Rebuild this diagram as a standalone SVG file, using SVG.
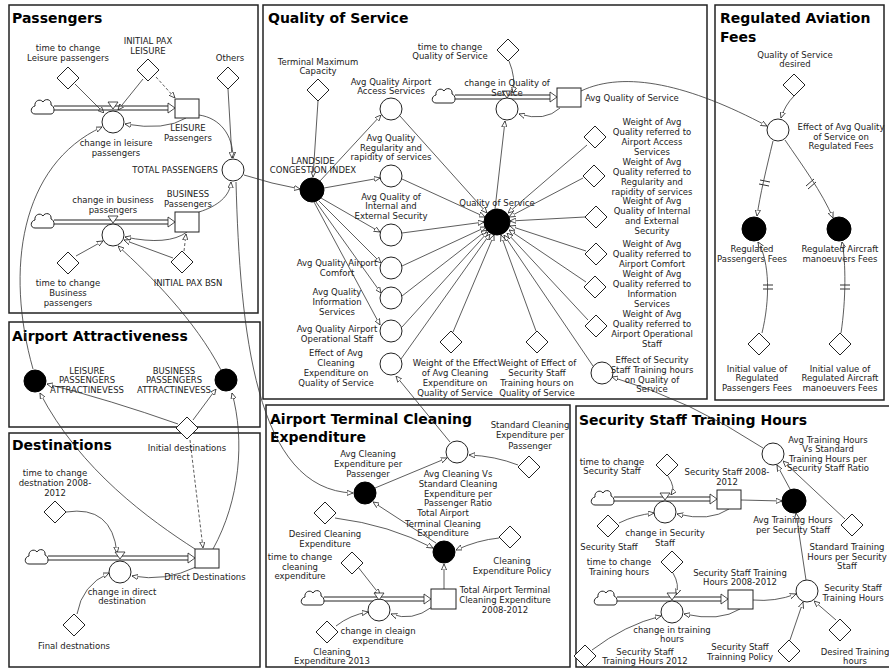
<svg xmlns="http://www.w3.org/2000/svg" width="889" height="668" viewBox="0 0 889 668">
<defs>
<style>
.panel{fill:none;stroke:#222;stroke-width:1.5}
.h{font-family:"DejaVu Sans",sans-serif;font-weight:bold;font-size:14px;fill:#000}
.t{font-family:"DejaVu Sans",sans-serif;font-size:8.5px;text-anchor:middle;fill:#222}
.tl{text-anchor:start}
.te{text-anchor:end}
.aux{fill:#fff;stroke:#222;stroke-width:1}
.blk{fill:#000;stroke:#000}
.stk{fill:#fff;stroke:#222;stroke-width:1}
.c{fill:none;stroke:#333;stroke-width:0.8;marker-end:url(#ah)}
.d{stroke-dasharray:3,2}
.pipe{fill:none;stroke:#222;stroke-width:1}
.pa{fill:#fff;stroke:#222;stroke-width:0.8}
.dl{fill:none;stroke:#333;stroke-width:1}
</style>
<marker id="ah" viewBox="0 0 8 8" refX="8" refY="4" markerWidth="6" markerHeight="6" markerUnits="userSpaceOnUse" orient="auto"><path d="M0,0.5 L8,4 L0,7.5 Z" fill="#fff" stroke="#222" stroke-width="1"/></marker>
<path id="dia" class="aux" d="M0,-11 L11,0 L0,11 L-11,0 Z"/>
<path id="cloud" class="aux" d="M-8,7 C-13,7 -13,0 -8,-1 C-9,-6 -3,-9 0,-5 C2,-9 9,-8 8,-2 C12,-1 12,7 8,7 Z"/>
</defs>
<rect width="889" height="668" fill="#fff"/>

<g id="panels">
<rect class="panel" x="9" y="5" width="249" height="308"/>
<text class="h" x="12" y="23">Passengers</text>
<rect class="panel" x="263" y="5" width="444" height="394"/>
<text class="h" x="268" y="23">Quality of Service</text>
<rect class="panel" x="715" y="5" width="169" height="395"/>
<text class="h" x="720" y="23">Regulated Aviation</text>
<text class="h" x="720" y="42">Fees</text>
<rect class="panel" x="9" y="322" width="251" height="105"/>
<text class="h" x="12" y="341">Airport Attractiveness</text>
<rect class="panel" x="9" y="433" width="251" height="234"/>
<text class="h" x="12" y="450">Destinations</text>
<rect class="panel" x="266" y="405" width="304" height="262"/>
<text class="h" x="270" y="424">Airport Terminal Cleaning</text>
<text class="h" x="270" y="442">Expenditure</text>
<rect class="panel" x="576" y="406" width="320" height="261"/>
<text class="h" x="579" y="425">Security Staff Training Hours</text>
</g>

<g id="connectors">
<path class="c" d="M75,84 L104,113"/>
<path class="c" d="M143,79 L118,110"/>
<path class="c d" d="M156,77 L175,98"/>
<path class="c" d="M186,118 Q165,131 125,124"/>
<path class="c" d="M199,115 C220,118 233,135 233,158"/>
<path class="c" d="M228,89 L232,158"/>
<path class="c" d="M199,212 C218,206 230,196 231,182"/>
<path class="c" d="M187,232 Q168,246 125,237"/>
<path class="c d" d="M184,251 L186,234"/>
<path class="c" d="M173,258 L124,240"/>
<path class="c" d="M76,256 L103,241"/>
<path class="c" d="M33,369 C5,270 20,165 102,127"/>
<path class="c" d="M221,370 C195,320 150,275 118,246"/>
<path class="c" d="M244,175 Q272,184 300,189"/>
<path class="c" d="M318,101 L313,177"/>
<path class="c" d="M320,181 L381,115"/>
<path class="c" d="M324,188 L380,178"/>
<path class="c" d="M321,198 L380,232"/>
<path class="c" d="M319,201 L381,263"/>
<path class="c" d="M316,202 L381,293"/>
<path class="c" d="M314,202 L380,325"/>
<path class="c" d="M400,116 L487,213"/>
<path class="c" d="M402,179 L485,217"/>
<path class="c" d="M402,233 L484,222"/>
<path class="c" d="M402,266 L486,227"/>
<path class="c" d="M402,296 L487,230"/>
<path class="c" d="M402,327 L488,232"/>
<path class="c" d="M401,359 L490,234"/>
<path class="c" d="M495,209 L505,121"/>
<path class="c" d="M509,61 Q516,78 513,93"/>
<path class="c" d="M560,108 Q545,122 519,114"/>
<path class="c" d="M587,145 L508,213"/>
<path class="c" d="M583,178 L509,217"/>
<path class="c" d="M585,217 L510,221"/>
<path class="c" d="M586,251 L510,226"/>
<path class="c" d="M586,282 L509,230"/>
<path class="c" d="M588,320 L507,233"/>
<path class="c" d="M593,366 L504,235"/>
<path class="c" d="M536,331 L501,235"/>
<path class="c" d="M453,332 L494,235"/>
<path class="c" d="M581,91 C625,70 690,85 767,126"/>
<path class="c" d="M794,96 Q785,105 781,118"/>
<path class="c" d="M773,141 C766,170 760,195 757,216"/>
<path class="c" d="M785,140 C802,165 822,192 833,218"/>
<path class="c" d="M762,333 C770,300 770,262 758,242"/>
<path class="c" d="M841,333 C846,300 846,262 842,242"/>
<path class="dl" d="M760,180 L770,182 M759,184 L769,186 M806,186 L814,179 M808,189 L816,182 M763,285 L773,285 M763,289 L773,289 M840,285 L850,285 M840,289 L850,289"/>
<path class="c" d="M178,424 Q110,400 47,384"/>
<path class="c" d="M193,420 L216,389"/>
<path class="c d" d="M190,440 L203,548"/>
<path class="c" d="M195,549 C150,520 80,470 40,393"/>
<path class="c" d="M213,549 C240,500 245,440 232,393"/>
<path class="c" d="M66,512 Q112,505 117,553"/>
<path class="c" d="M77,614 Q82,585 109,573"/>
<path class="c" d="M196,567 Q165,582 132,576"/>
<path class="c" d="M236,182 C240,330 255,490 353,493"/>
<path class="c" d="M518,465 Q495,456 469,455"/>
<path class="c" d="M375,488 L447,458"/>
<path class="c" d="M450,442 L396,376"/>
<path class="c" d="M436,543 L373,502"/>
<path class="c" d="M335,518 Q390,525 433,548"/>
<path class="c" d="M499,538 Q478,540 456,550"/>
<path class="c" d="M444,589 L444,564"/>
<path class="c" d="M358,567 L380,595"/>
<path class="c" d="M432,607 Q412,622 391,614"/>
<path class="c" d="M336,626 Q350,615 368,612"/>
<path class="c" d="M668,476 Q676,488 671,495"/>
<path class="c" d="M619,523 Q635,515 654,513"/>
<path class="c" d="M729,509 Q710,522 677,514"/>
<path class="c" d="M741,500 L782,501"/>
<path class="c" d="M806,580 L796,513"/>
<path class="c" d="M790,489 L777,465"/>
<path class="c" d="M845,519 L783,461"/>
<path class="c" d="M763,448 Q690,400 612,377"/>
<path class="c" d="M673,573 Q680,585 676,595"/>
<path class="c" d="M740,609 Q720,622 684,614"/>
<path class="c" d="M753,600 Q775,602 796,594"/>
<path class="c" d="M592,650 Q625,625 661,616"/>
<path class="c" d="M790,640 L803,602"/>
<path class="c" d="M836,620 L814,601"/>
</g>

<g id="flows">
<path class="pipe" d="M54,106 H169 M54,110 H169"/><polygon class="pa" points="168,103 175,108 168,113"/>
<path class="pipe" d="M54,220 H169 M54,224 H169"/><polygon class="pa" points="168,217 175,222 168,227"/>
<path class="pipe" d="M455,95 H551 M455,99 H551"/><polygon class="pa" points="550,92 557,97 550,102"/>
<path class="pipe" d="M48,556 H189 M48,560 H189"/><polygon class="pa" points="188,553 195,558 188,563"/>
<path class="pipe" d="M324,597 H425 M324,601 H425"/><polygon class="pa" points="424,594 431,599 424,604"/>
<path class="pipe" d="M614,497 H711 M614,501 H711"/><polygon class="pa" points="710,494 717,499 710,504"/>
<path class="pipe" d="M617,597 H722 M617,601 H722"/><polygon class="pa" points="721,594 728,599 721,604"/>
</g>

<g id="cloud-leisure"><use href="#cloud" x="43" y="107"/></g>
<g id="cloud-business"><use href="#cloud" x="43" y="221"/></g>
<g id="cloud-qos"><use href="#cloud" x="444" y="96"/></g>
<g id="cloud-dest"><use href="#cloud" x="37" y="557"/></g>
<g id="cloud-clean"><use href="#cloud" x="313" y="598"/></g>
<g id="cloud-staff"><use href="#cloud" x="603" y="498"/></g>
<g id="cloud-training"><use href="#cloud" x="606" y="598"/></g>

<!-- Passengers -->
<g id="time-to-change-leisure"><use href="#dia" x="68" y="78"/><text class="t" x="68" y="51">time to change</text><text class="t" x="68" y="61">Leisure passengers</text></g>
<g id="initial-pax-leisure"><use href="#dia" x="148" y="70"/><text class="t" x="148" y="44">INITIAL PAX</text><text class="t" x="148" y="54">LEISURE</text></g>
<g id="others"><use href="#dia" x="228" y="78"/><text class="t" x="230" y="61">Others</text></g>
<g id="change-leisure"><circle class="aux" cx="113" cy="122" r="11"/><polygon class="pa" points="108,102 118,102 113,109"/><text class="t" x="116" y="146">change in leisure</text><text class="t" x="116" y="156">passengers</text></g>
<g id="leisure-passengers"><rect class="stk" x="175" y="99" width="24" height="19"/><text class="t" x="188" y="131">LEISURE</text><text class="t" x="188" y="141">Passengers</text></g>
<g id="total-passengers"><circle class="aux" cx="233" cy="170" r="11"/><text class="t te" x="218" y="173">TOTAL PASSENGERS</text></g>
<g id="change-business"><circle class="aux" cx="113" cy="235" r="11"/><polygon class="pa" points="108,216 118,216 113,223"/><text class="t" x="113" y="203">change in business</text><text class="t" x="113" y="213">passengers</text></g>
<g id="business-passengers"><rect class="stk" x="175" y="212" width="24" height="20"/><text class="t" x="188" y="197">BUSINESS</text><text class="t" x="188" y="207">Passengers</text></g>
<g id="time-to-change-business"><use href="#dia" x="68" y="263"/><text class="t" x="68" y="286">time to change</text><text class="t" x="68" y="296">Business</text><text class="t" x="68" y="306">passengers</text></g>
<g id="initial-pax-bsn"><use href="#dia" x="182" y="262"/><text class="t" x="188" y="286">INITIAL PAX BSN</text></g>

<!-- Quality of Service -->
<g id="terminal-max-capacity"><use href="#dia" x="318" y="90"/><text class="t" x="318" y="65">Terminal Maximum</text><text class="t" x="318" y="74">Capacity</text></g>
<g id="landside-congestion"><circle class="blk" cx="312" cy="190" r="12"/><text class="t" x="313" y="164">LANDSIDE</text><text class="t" x="313" y="173">CONGESTION INDEX</text></g>
<g id="avg-access"><circle class="aux" cx="391" cy="109" r="11"/><text class="t" x="391" y="85">Avg Quality Airport</text><text class="t" x="391" y="94">Access Services</text></g>
<g id="avg-regularity"><circle class="aux" cx="391" cy="176" r="11"/><text class="t" x="391" y="141">Avg Quality</text><text class="t" x="391" y="151">Regularity and</text><text class="t" x="391" y="160">rapidity of services</text></g>
<g id="avg-security"><circle class="aux" cx="391" cy="235" r="11"/><text class="t" x="391" y="200">Avg Quality of</text><text class="t" x="391" y="209">Internal and</text><text class="t" x="391" y="219">External Security</text></g>
<g id="avg-comfort"><circle class="aux" cx="391" cy="268" r="11"/><text class="t" x="337" y="266">Avg Quality Airport</text><text class="t" x="337" y="276">Comfort</text></g>
<g id="avg-information"><circle class="aux" cx="391" cy="298" r="11"/><text class="t" x="337" y="295">Avg Quality</text><text class="t" x="337" y="305">Information</text><text class="t" x="337" y="315">Services</text></g>
<g id="avg-operational"><circle class="aux" cx="391" cy="331" r="11"/><text class="t" x="337" y="332">Avg Quality Airport</text><text class="t" x="337" y="342">Operational Staff</text></g>
<g id="effect-cleaning"><circle class="aux" cx="391" cy="364" r="11"/><text class="t" x="336" y="356">Effect of Avg</text><text class="t" x="336" y="366">Cleaning</text><text class="t" x="336" y="376">Expenditure on</text><text class="t" x="336" y="386">Quality of Service</text></g>
<g id="weight-effect-cleaning"><use href="#dia" x="451" y="342"/><text class="t" x="455" y="366">Weight of the Effect</text><text class="t" x="455" y="376">of Avg Cleaning</text><text class="t" x="455" y="386">Expenditure on</text><text class="t" x="455" y="396">Quality of Service</text></g>
<g id="weight-effect-security"><use href="#dia" x="537" y="342"/><text class="t" x="537" y="366">Weight of Effect of</text><text class="t" x="537" y="376">Security Staff</text><text class="t" x="537" y="386">Training hours on</text><text class="t" x="537" y="396">Quality of Service</text></g>
<g id="quality-of-service"><circle class="blk" cx="497" cy="222" r="13"/><text class="t" x="497" y="206">Quality of Service</text></g>
<g id="time-to-change-qos"><use href="#dia" x="508" y="50"/><text class="t" x="450" y="50">time to change</text><text class="t" x="450" y="59">Quality of Service</text></g>
<g id="change-qos"><circle class="aux" cx="507" cy="109" r="11"/><polygon class="pa" points="502,91 512,91 507,98"/><text class="t" x="507" y="86">change in Quality of</text><text class="t" x="507" y="96">Service</text></g>
<g id="avg-qos"><rect class="stk" x="557" y="88" width="24" height="19"/><text class="t tl" x="585" y="101">Avg Quality of Service</text></g>
<g id="weight-access"><use href="#dia" x="595" y="137"/><text class="t" x="652" y="125">Weight of Avg</text><text class="t" x="652" y="135">Quality referred to</text><text class="t" x="652" y="145">Airport Access</text><text class="t" x="652" y="155">Services</text></g>
<g id="weight-regularity"><use href="#dia" x="594" y="176"/><text class="t" x="652" y="165">Weight of Avg</text><text class="t" x="652" y="175">Quality referred to</text><text class="t" x="652" y="185">Regularity and</text><text class="t" x="652" y="195">rapidity of services</text></g>
<g id="weight-internal"><use href="#dia" x="596" y="217"/><text class="t" x="652" y="204">Weight of Avg</text><text class="t" x="652" y="214">Quality of Internal</text><text class="t" x="652" y="224">and External</text><text class="t" x="652" y="234">Security</text></g>
<g id="weight-comfort"><use href="#dia" x="596" y="254"/><text class="t" x="652" y="247">Weight of Avg</text><text class="t" x="652" y="257">Quality referred to</text><text class="t" x="652" y="267">Airport Comfort</text></g>
<g id="weight-information"><use href="#dia" x="595" y="287"/><text class="t" x="652" y="277">Weight of Avg</text><text class="t" x="652" y="287">Quality referred to</text><text class="t" x="652" y="297">Information</text><text class="t" x="652" y="307">Services</text></g>
<g id="weight-operational"><use href="#dia" x="596" y="326"/><text class="t" x="652" y="317">Weight of Avg</text><text class="t" x="652" y="327">Quality referred to</text><text class="t" x="652" y="337">Airport Operational</text><text class="t" x="652" y="347">Staff</text></g>
<g id="effect-security"><circle class="aux" cx="602" cy="373" r="11"/><text class="t" x="652" y="363">Effect of Security</text><text class="t" x="652" y="373">Staff Training hours</text><text class="t" x="652" y="383">on Quality of</text><text class="t" x="652" y="392">Service</text></g>

<!-- Regulated Aviation Fees -->
<g id="qos-desired"><use href="#dia" x="794" y="85"/><text class="t" x="795" y="58">Quality of Service</text><text class="t" x="795" y="67">desired</text></g>
<g id="effect-fees"><circle class="aux" cx="778" cy="130" r="11"/><text class="t" x="841" y="130">Effect of Avg Quality</text><text class="t" x="841" y="140">of Service on</text><text class="t" x="841" y="149">Regulated Fees</text></g>
<g id="reg-pass-fees"><circle class="blk" cx="754" cy="229" r="12"/><text class="t" x="752" y="252">Regulated</text><text class="t" x="752" y="262">Passengers Fees</text></g>
<g id="reg-aircraft-fees"><circle class="blk" cx="839" cy="229" r="12"/><text class="t" x="840" y="252">Regulated Aircraft</text><text class="t" x="840" y="262">manoeuvers Fees</text></g>
<g id="init-pass-fees"><use href="#dia" x="759" y="344"/><text class="t" x="757" y="372">Initial value of</text><text class="t" x="757" y="381">Regulated</text><text class="t" x="757" y="391">Passengers Fees</text></g>
<g id="init-aircraft-fees"><use href="#dia" x="840" y="344"/><text class="t" x="840" y="372">Initial value of</text><text class="t" x="840" y="381">Regulated Aircraft</text><text class="t" x="840" y="391">manoeuvers Fees</text></g>

<!-- Airport Attractiveness -->
<g id="leisure-attractiveness"><circle class="blk" cx="35" cy="381" r="11"/><text class="t" x="87" y="374">LEISURE</text><text class="t" x="87" y="383">PASSENGERS</text><text class="t" x="87" y="393">ATTRACTINEVESS</text></g>
<g id="business-attractiveness"><circle class="blk" cx="226" cy="380" r="11"/><text class="t" x="174" y="374">BUSINESS</text><text class="t" x="174" y="383">PASSENGERS</text><text class="t" x="174" y="393">ATTRACTINEVESS</text></g>
<g id="initial-destinations"><use href="#dia" x="187" y="428"/><text class="t" x="187" y="451">Initial destinations</text></g>

<!-- Destinations -->
<g id="time-to-change-destination"><use href="#dia" x="55" y="512"/><text class="t" x="55" y="476">time to change</text><text class="t" x="55" y="486">destnation 2008-</text><text class="t" x="55" y="496">2012</text></g>
<g id="change-direct-destination"><circle class="aux" cx="120" cy="572" r="11"/><polygon class="pa" points="115,552 125,552 120,559"/><text class="t" x="122" y="595">change in direct</text><text class="t" x="122" y="604">destination</text></g>
<g id="direct-destinations"><rect class="stk" x="195" y="549" width="24" height="19"/><text class="t" x="205" y="580">Direct Destinations</text></g>
<g id="final-destinations"><use href="#dia" x="74" y="625"/><text class="t" x="74" y="649">Final destnations</text></g>

<!-- Cleaning -->
<g id="standard-cleaning"><use href="#dia" x="529" y="467"/><text class="t" x="530" y="428">Standard Cleaning</text><text class="t" x="530" y="438">Expenditure per</text><text class="t" x="530" y="449">Passenger</text></g>
<g id="avg-cleaning-ratio"><circle class="aux" cx="457" cy="452" r="11"/><text class="t" x="458" y="477">Avg Cleaning Vs</text><text class="t" x="458" y="487">Standard Cleaning</text><text class="t" x="458" y="497">Expenditure per</text><text class="t" x="458" y="506">Passenger Ratio</text></g>
<g id="avg-cleaning-per-pax"><circle class="blk" cx="365" cy="493" r="11"/><text class="t" x="368" y="457">Avg Cleaning</text><text class="t" x="368" y="467">Expenditure per</text><text class="t" x="368" y="477">Passenger</text></g>
<g id="total-cleaning"><circle class="blk" cx="444" cy="552" r="11"/><text class="t" x="443" y="516">Total Airport</text><text class="t" x="443" y="527">Terminal Cleaning</text><text class="t" x="443" y="536">Expenditure</text></g>
<g id="desired-cleaning"><use href="#dia" x="325" y="513"/><text class="t" x="325" y="537">Desired Cleaning</text><text class="t" x="325" y="547">Expenditure</text></g>
<g id="cleaning-policy"><use href="#dia" x="510" y="537"/><text class="t" x="512" y="564">Cleaning</text><text class="t" x="512" y="574">Expenditure Policy</text></g>
<g id="time-to-change-cleaning"><use href="#dia" x="352" y="563"/><text class="t" x="300" y="560">time to change</text><text class="t" x="300" y="570">cleaning</text><text class="t" x="300" y="579">expenditure</text></g>
<g id="change-cleaning"><circle class="aux" cx="379" cy="610" r="11"/><polygon class="pa" points="374,593 384,593 379,600"/><text class="t" x="378" y="634">change in cleaign</text><text class="t" x="378" y="644">expenditure</text></g>
<g id="total-cleaning-stock"><rect class="stk" x="431" y="589" width="25" height="20"/><text class="t" x="505" y="593">Total Airport Terminal</text><text class="t" x="505" y="603">Cleaning Expenditure</text><text class="t" x="505" y="613">2008-2012</text></g>
<g id="cleaning-2013"><use href="#dia" x="327" y="632"/><text class="t" x="332" y="655">Cleaning</text><text class="t" x="332" y="664">Expenditure 2013</text></g>

<!-- Security -->
<g id="avg-training-ratio"><circle class="aux" cx="773" cy="454" r="11"/><text class="t" x="828" y="443">Avg Training Hours</text><text class="t" x="828" y="452">Vs Standard</text><text class="t" x="828" y="462">Training Hours per</text><text class="t" x="828" y="471">Security Staff Ratio</text></g>
<g id="time-to-change-staff"><use href="#dia" x="667" y="465"/><text class="t" x="612" y="465">time to change</text><text class="t" x="612" y="474">Security Staff</text></g>
<g id="change-staff"><circle class="aux" cx="665" cy="512" r="11"/><polygon class="pa" points="660,493 670,493 665,500"/><text class="t" x="665" y="536">change in Security</text><text class="t" x="665" y="546">Staff</text></g>
<g id="security-staff-stock"><rect class="stk" x="717" y="490" width="24" height="19"/><text class="t" x="727" y="475">Security Staff 2008-</text><text class="t" x="727" y="485">2012</text></g>
<g id="avg-training-per-staff"><circle class="blk" cx="794" cy="501" r="12"/><text class="t" x="793" y="523">Avg Training Hours</text><text class="t" x="793" y="533">per Security Staff</text></g>
<g id="security-staff"><use href="#dia" x="608" y="526"/><text class="t" x="609" y="550">Security Staff</text></g>
<g id="standard-training"><use href="#dia" x="852" y="525"/><text class="t" x="847" y="550">Standard Training</text><text class="t" x="847" y="560">Hours per Security</text><text class="t" x="847" y="569">Staff</text></g>
<g id="time-to-change-training"><use href="#dia" x="672" y="562"/><text class="t" x="619" y="565">time to change</text><text class="t" x="619" y="575">Training hours</text></g>
<g id="change-training"><circle class="aux" cx="672" cy="612" r="11"/><polygon class="pa" points="667,593 677,593 672,600"/><text class="t" x="672" y="633">change in training</text><text class="t" x="672" y="642">hours</text></g>
<g id="training-stock"><rect class="stk" x="728" y="590" width="25" height="19"/><text class="t" x="740" y="576">Security Staff Training</text><text class="t" x="740" y="585">Hours 2008-2012</text></g>
<g id="security-training-hours"><circle class="aux" cx="807" cy="591" r="11"/><text class="t" x="853" y="591">Security Staff</text><text class="t" x="853" y="601">Training Hours</text></g>
<g id="training-2012"><use href="#dia" x="585" y="656"/><text class="t" x="645" y="655">Security Staff</text><text class="t" x="645" y="664">Training Hours 2012</text></g>
<g id="training-policy"><use href="#dia" x="789" y="651"/><text class="t" x="740" y="650">Security Staff</text><text class="t" x="740" y="660">Trainning Policy</text></g>
<g id="desired-training"><use href="#dia" x="840" y="630"/><text class="t" x="855" y="655">Desired Training</text><text class="t" x="855" y="664">hours</text></g>
</svg>
